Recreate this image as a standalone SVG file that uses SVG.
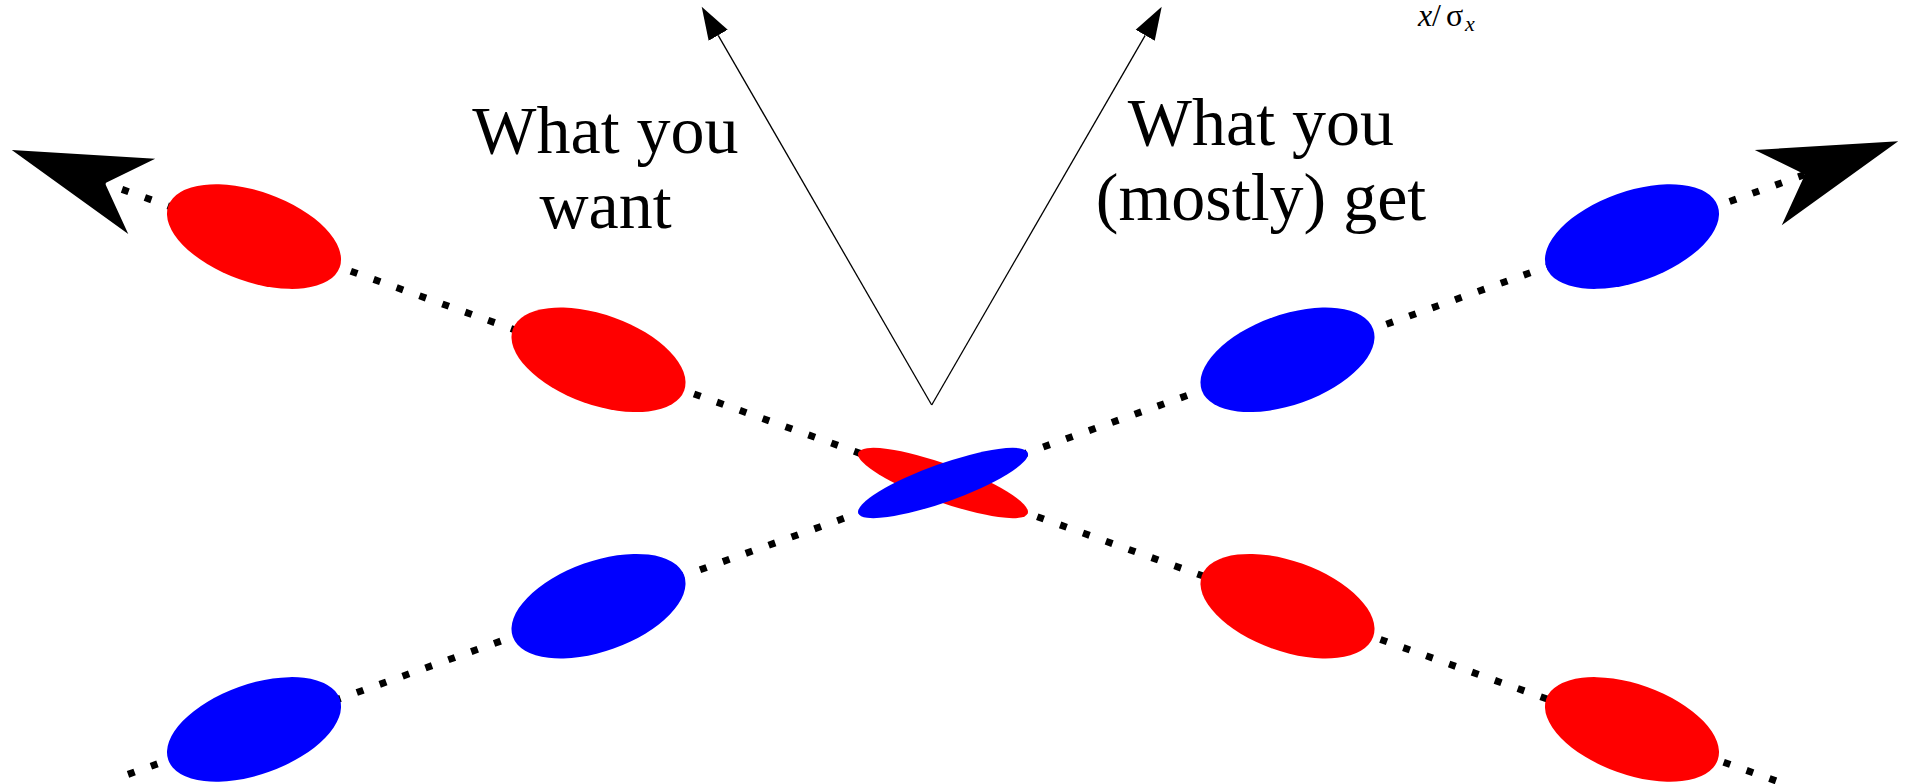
<svg xmlns="http://www.w3.org/2000/svg" width="1911" height="784" viewBox="0 0 1911 784">
<style>
.dot{fill:none;stroke:#000;stroke-width:7;stroke-dasharray:7 17.3}
.thin{fill:none;stroke:#000;stroke-width:1.3}
.red{fill:#ff0000}
.blue{fill:#0000ff}
.lbl{font-family:"Liberation Serif","Times New Roman",serif;font-size:68px;fill:#000;text-anchor:middle}
.math{font-family:"Liberation Serif","Times New Roman",serif;font-size:32px;fill:#000}
</style>
<defs>
<marker id="bigHead" markerUnits="userSpaceOnUse" viewBox="-40 -42 142 84" refX="0" refY="0" markerWidth="142" markerHeight="84" orient="auto">
<path d="M99,0 L-39,-40 L0,0 L-39,40 Z" fill="#000"/>
</marker>
<marker id="smallHead" markerUnits="userSpaceOnUse" viewBox="0 -12 34 24" refX="0" refY="0" markerWidth="34" markerHeight="24" orient="auto">
<path d="M33,0 L0,-11 L0,11 Z" fill="#000"/>
</marker>
</defs>
<rect width="1911" height="784" fill="#fff"/>
<g id="connectors">
<path class="dot" d="M1776,780.9 L105,183.3" marker-end="url(#bigHead)"/>
<path class="dot" d="M128,774.4 L1805,174.5" marker-end="url(#bigHead)"/>
<path class="thin" d="M931.7,405 L718.2,35.3" marker-end="url(#smallHead)"/>
<path class="thin" d="M931.7,405 L1145.2,35.3" marker-end="url(#smallHead)"/>
</g>
<g id="red1"><ellipse class="red" cx="0" cy="0" rx="91" ry="45" transform="translate(254,236.6) rotate(19.66)"/></g>
<g id="red2"><ellipse class="red" cx="0" cy="0" rx="91" ry="45" transform="translate(598.5,359.8) rotate(19.66)"/></g>
<g id="red4"><ellipse class="red" cx="0" cy="0" rx="91" ry="45" transform="translate(1287.5,606.2) rotate(19.66)"/></g>
<g id="red5"><ellipse class="red" cx="0" cy="0" rx="91" ry="45" transform="translate(1632,729.4) rotate(19.66)"/></g>
<g id="blue1"><ellipse class="blue" cx="0" cy="0" rx="91" ry="45" transform="translate(254,729.4) rotate(-19.66)"/></g>
<g id="blue2"><ellipse class="blue" cx="0" cy="0" rx="91" ry="45" transform="translate(598.5,606.2) rotate(-19.66)"/></g>
<g id="blue4"><ellipse class="blue" cx="0" cy="0" rx="91" ry="45" transform="translate(1287.5,359.8) rotate(-19.66)"/></g>
<g id="blue5"><ellipse class="blue" cx="0" cy="0" rx="91" ry="45" transform="translate(1632,236.6) rotate(-19.66)"/></g>
<g id="red3"><ellipse class="red" cx="0" cy="0" rx="90" ry="19" transform="translate(943,483) rotate(19.66)"/></g>
<g id="blue3"><ellipse class="blue" cx="0" cy="0" rx="90" ry="19" transform="translate(943,483) rotate(-19.66)"/></g>
<g id="label-want">
<text class="lbl" x="605.5" y="153.3">What you</text>
<text class="lbl" x="605.5" y="228.3">want</text>
</g>
<g id="label-get">
<text class="lbl" x="1261" y="145">What you</text>
<text class="lbl" x="1261" y="220">(mostly) get</text>
</g>
<g id="label-axis">
<text class="math" y="26"><tspan x="1418" font-style="italic">x</tspan><tspan x="1432">/</tspan><tspan x="1446">σ</tspan><tspan x="1465" dy="5" font-style="italic" font-size="22">x</tspan></text>
</g>
</svg>
